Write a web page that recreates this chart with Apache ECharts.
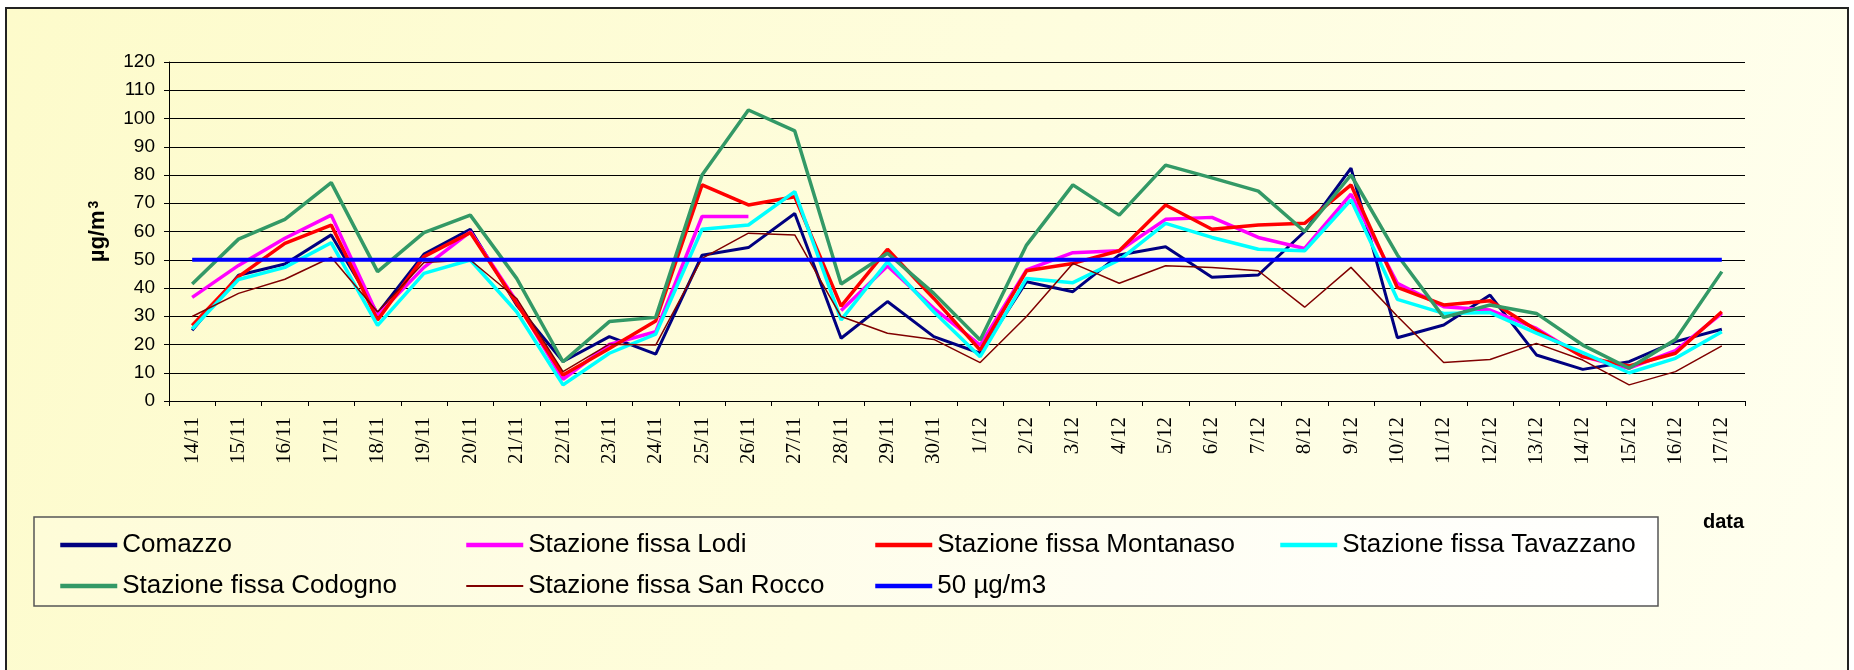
<!DOCTYPE html>
<html>
<head>
<meta charset="utf-8">
<script src="https://cdn.jsdelivr.net/npm/echarts@6/dist/echarts.min.js"></script>
<style>
  html, body { margin: 0; padding: 0; background: #fff; }
  #main { width: 1854px; height: 670px; }
</style>
</head>
<body>
<div id="main"></div>
<script>
var days = ['14/11','15/11','16/11','17/11','18/11','19/11','20/11','21/11','22/11','23/11','24/11',
    '25/11','26/11','27/11','28/11','29/11','30/11','1/12','2/12','3/12','4/12','5/12','6/12',
    '7/12','8/12','9/12','10/12','11/12','12/12','13/12','14/12','15/12','16/12','17/12'];

var comazzo = [25, 44.5, 48.5, 58.8, 31, 52, 60.8, 34, 14, 22.8, 16.6, 51.6, 54.3, 66.4, 22.2, 35.2, 22.8,
    16.9, 42.2, 38.7, 51.7, 54.6, 43.8, 44.6, 60, 82.4, 22.4, 26.9, 37.5, 16.3, 11.2, 13.9, 21, 25.4];
var lodi = [36.7, 48, 57.6, 65.8, 30.4, 47.3, 59.9, 35.2, 7.7, 20, 24.5, 65.3, 65.3, null, 32, 47.8, 32.8,
    19.8, 46.4, 52.5, 53.2, 64.3, 65, 57.9, 54, 73.2, 41.7, 33.4, 32.2, 25.7, 15.7, 11.6, 17.8, 31];
var montanaso = [26.7, 44, 55.8, 62.3, 28.7, 51.1, 59.6, 34.6, 9.2, 18.6, 28.3, 76.5, 69.4, 72.3, 33.6, 53.7, 36.3,
    18, 46.1, 48.7, 53.2, 69.4, 60.8, 62.3, 62.9, 76.5, 40.2, 34, 35.5, 25.1, 15.7, 12.4, 16.9, 31.6];
var tavazzano = [25.5, 43, 47.3, 56, 26.8, 45.2, 49.9, 31.6, 5.7, 16.9, 23.7, 60.8, 62.3, 74.1, 28.7, 49.3, 31.6,
    15.7, 43.4, 41.9, 49.9, 62.9, 57.9, 53.7, 53.2, 71.2, 36, 31, 31.3, 24, 17.1, 10, 15.1, 24.5];
var codogno = [41.4, 57.3, 64.3, 77.3, 45.8, 59.6, 65.8, 43.4, 13.9, 28.1, 29.6, 80, 103, 95.6, 41.4, 52.3, 38.1,
    21.6, 55.2, 76.5, 65.8, 83.5, 79, 74.3, 60, 80, 51.7, 29.6, 34, 31, 19.8, 11.6, 21.8, 45.8];
var sanRocco = [29.9, 38.1, 43.1, 50.9, 31.5, 49, 49.9, 36.3, 10.4, 20.1, 19.8, 50.5, 59.4, 58.8, 29.9, 24, 21.8,
    13.6, 29.9, 48.7, 41.7, 47.9, 47.3, 46.1, 33.2, 47.3, 30, 13.6, 14.7, 20.4, 14.5, 5.7, 10.4, 19.5];
var limite = [50, 50, 50, 50, 50, 50, 50, 50, 50, 50, 50, 50, 50, 50, 50, 50, 50,
    50, 50, 50, 50, 50, 50, 50, 50, 50, 50, 50, 50, 50, 50, 50, 50, 50];

var names = ['Comazzo', 'Stazione fissa Lodi', 'Stazione fissa Montanaso', 'Stazione fissa Tavazzano',
    'Stazione fissa Codogno', 'Stazione fissa San Rocco', '50 µg/m3'];
var colors = ['#000080', '#ff00ff', '#ff0000', '#00ffff', '#339966', '#800000', '#0000ff'];
var widths = [3, 3.5, 3.5, 3.5, 3.5, 1.5, 4];
var values = [comazzo, lodi, montanaso, tavazzano, codogno, sanRocco, limite];

var sans = '"Liberation Sans", Arial, sans-serif';

function legendCol(left, idx) {
    return {
        left: left,
        top: 530,
        padding: 0,
        orient: 'vertical',
        data: idx.map(function (i) {
            return { name: names[i], lineStyle: { color: colors[i], width: i === 5 ? 2 : 4.5 } };
        }),
        itemWidth: 57,
        itemHeight: 14,
        itemGap: 11,
        selectedMode: false,
        itemStyle: { opacity: 0 },
        textStyle: { fontFamily: sans, fontSize: 26, color: '#000', lineHeight: 30 }
    };
}

var series = names.map(function (n, i) {
    return {
        name: n,
        type: 'line',
        data: values[i],
        symbol: 'none',
        connectNulls: false,
        color: colors[i],
        lineStyle: { color: colors[i], width: widths[i] },
        z: 2 + i
    };
});

var chart = echarts.init(document.getElementById('main'));
chart.setOption({
    backgroundColor: '#ffffff',
    animation: false,
    grid: { left: 169, right: 109, top: 62, bottom: 269 },
    graphic: [
        {
            type: 'rect', z: -10,
            shape: { x: 6, y: 8, width: 1842, height: 680 },
            style: {
                fill: new echarts.graphic.LinearGradient(0, 0, 1, 1, [
                    { offset: 0, color: '#fdfbcb' },
                    { offset: 1, color: '#fffff0' }
                ]),
                stroke: '#222', lineWidth: 2
            }
        },
        {
            type: 'rect', z: -5,
            shape: { x: 34, y: 517, width: 1624, height: 89 },
            style: {
                fill: new echarts.graphic.LinearGradient(0, 0, 1, 1, [
                    { offset: 0, color: '#fefcd8' },
                    { offset: 1, color: '#ffffff' }
                ]),
                stroke: '#555', lineWidth: 1.5
            }
        },
        {
            type: 'text', left: 1703, top: 512,
            style: { text: 'data', font: 'bold 20px ' + sans, fill: '#000' }
        }
    ],
    legend: [
        legendCol(58, [0, 4]),
        legendCol(464, [1, 5]),
        legendCol(873, [2, 6]),
        legendCol(1278, [3])
    ],
    xAxis: {
        type: 'category',
        data: days,
        boundaryGap: true,
        axisLine: { lineStyle: { color: '#000', width: 1 } },
        axisTick: { show: true, length: 5, lineStyle: { color: '#000' } },
        axisLabel: {
            rotate: 90, interval: 0, margin: 16,
            fontFamily: '"Liberation Serif", "Times New Roman", serif',
            fontSize: 21, color: '#000'
        },
        splitLine: { show: false }
    },
    yAxis: {
        type: 'value',
        min: 0, max: 120, interval: 10,
        name: 'µg/m{s|3}',
        nameLocation: 'middle',
        nameGap: 60,
        nameTextStyle: {
            fontFamily: sans, fontSize: 22, fontWeight: 'bold', color: '#000',
            rich: { s: { fontFamily: sans, fontSize: 14, fontWeight: 'bold', color: '#000', verticalAlign: 'top', padding: [0, 0, 8, 2] } }
        },
        axisLine: { show: true, lineStyle: { color: '#000', width: 1 } },
        axisTick: { show: true, length: 5, lineStyle: { color: '#000' } },
        axisLabel: { fontFamily: sans, fontSize: 19, color: '#000', margin: 14 },
        splitLine: { show: true, lineStyle: { color: '#000', width: 1 } }
    },
    series: series
});
</script>
</body>
</html>
